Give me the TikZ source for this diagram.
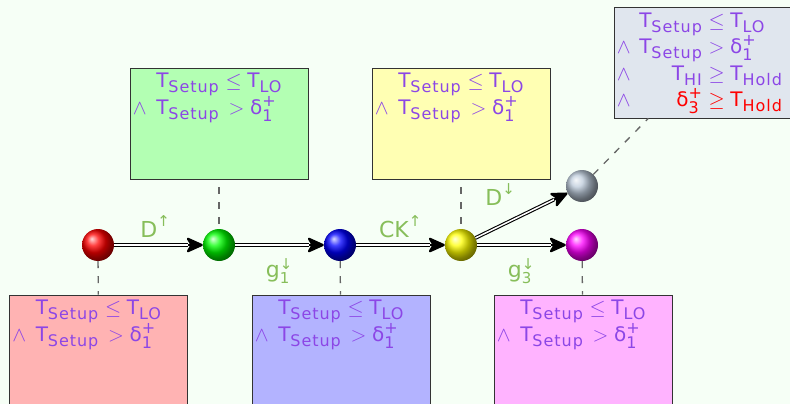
\documentclass[tikz,border=0pt]{standalone}
\usepackage{amsmath}
\usepackage{fontspec}
\setmainfont{DejaVu Sans}
\newfontfamily\subf[LetterSpace=6]{DejaVu Sans}
\usetikzlibrary{arrows.meta,shadings}
\DeclareMathSizes{20}{20}{16}{12}
\DeclareMathSizes{22}{22}{15}{11}
\definecolor{bgc}{RGB}{246,255,246}
\definecolor{tcol}{RGB}{140,70,230}
\definecolor{lcol}{RGB}{135,190,90}
\definecolor{kfill}{RGB}{224,230,238}
\definecolor{kball}{RGB}{188,202,218}
\definecolor{rfill}{RGB}{255,179,179}
\definecolor{gfill}{RGB}{179,255,179}
\definecolor{bfill}{RGB}{179,179,255}
\definecolor{yfill}{RGB}{255,255,179}
\definecolor{mfill}{RGB}{255,179,255}
\definecolor{rb}{RGB}{255,0,0}
\definecolor{gb}{RGB}{0,255,0}
\definecolor{bb}{RGB}{0,0,255}
\definecolor{yb}{RGB}{255,255,0}
\definecolor{mb}{RGB}{255,0,255}
\newcommand\Tx[1]{\text{T}_{\text{\subf #1}}}
\tikzset{
  cbox/.style={draw=black!80, line width=0.8pt, minimum width=178pt, minimum height=111pt, inner sep=0pt},
  txt/.style={inner sep=0pt, text=tcol, font=\fontsize{20}{24}\selectfont},
  ballnode/.style={circle, minimum size=32pt, inner sep=0pt},
  dashline/.style={draw=black!60, line width=1.3pt, dash pattern=on 7pt off 8pt},
  tipline/.style={line width=2.2pt, -{Stealth[length=19pt,width=17pt,inset=5pt,round]}},
  dline/.style={draw=black, double=white, double distance=1.5pt, line width=1.1pt, shorten >=15pt},
  lab/.style={inner sep=1pt, text=lcol, font=\fontsize{22}{26}\selectfont},
}
\newcommand\condbox[4]{%
  \node[cbox, fill=#4] (#1) at (#2,#3) {};
  \node[txt, anchor=base east] (#1a) at ([xshift=90pt,yshift=-20pt]#1.north west) {$\Tx{Setup}$};
  \node[txt, anchor=base west] (#1b) at ([xshift=90pt,yshift=-20pt]#1.north west) {${}\le\Tx{LO}$};
  \node[txt, anchor=base west] (#1c) at ([xshift=3pt,yshift=-47pt]#1.north west) {$\wedge$};
  \node[txt, anchor=base east] (#1d) at ([xshift=90pt,yshift=-47pt]#1.north west) {$\Tx{Setup}$};
  \node[txt, anchor=base west] (#1e) at ([xshift=93pt,yshift=-47pt]#1.north west) {${}>\text{δ}_{\text{1}}^{\text{+}}$};
}
\begin{document}
\begin{tikzpicture}[x=1pt,y=-1pt]
\path[use as bounding box] (0,0) rectangle (790,404);
\clip (0,0) rectangle (790,404);
\fill[bgc] (0,0) rectangle (790,404);
% condition boxes
\condbox{gbox}{219}{123.5}{gfill}
\condbox{ybox}{461}{123.5}{yfill}
\condbox{rbox}{98.5}{350.5}{rfill}
\condbox{bbox}{341}{350.5}{bfill}
\condbox{mbox}{583}{350.5}{mfill}
% grey box
\node[cbox, fill=kfill] (kbox) at (703,62.5) {};
\node[txt, anchor=base west] (k1c) at ([xshift=3pt,yshift=-47pt]kbox.north west) {$\wedge$};
\node[txt, anchor=base west] (k2c) at ([xshift=3pt,yshift=-74pt]kbox.north west) {$\wedge$};
\node[txt, anchor=base west] (k3c) at ([xshift=3pt,yshift=-100pt]kbox.north west) {$\wedge$};
\node[txt, anchor=base east] (k0a) at ([xshift=89pt,yshift=-21pt]kbox.north west) {$\Tx{Setup}$};
\node[txt, anchor=base west] (k0b) at ([xshift=89pt,yshift=-21pt]kbox.north west) {${}\le\Tx{LO}$};
\node[txt, anchor=base east] (k1a) at ([xshift=89pt,yshift=-47pt]kbox.north west) {$\Tx{Setup}$};
\node[txt, anchor=base west] (k1b) at ([xshift=89pt,yshift=-47pt]kbox.north west) {${}>\text{δ}_{\text{1}}^{\text{+}}$};
\node[txt, anchor=base east] (k2a) at ([xshift=89pt,yshift=-74pt]kbox.north west) {$\Tx{HI}$};
\node[txt, anchor=base west] (k2b) at ([xshift=89pt,yshift=-74pt]kbox.north west) {${}\ge\Tx{Hold}$};
\node[txt, text=red, anchor=base east] (k3a) at ([xshift=89pt,yshift=-100pt]kbox.north west) {$\text{δ}_{\text{3}}^{\text{+}}$};
\node[txt, text=red, anchor=base west] (k3b) at ([xshift=89pt,yshift=-100pt]kbox.north west) {${}\ge\Tx{Hold}$};
% balls
\node[ballnode, ball color=rb] (r) at (98,245) {};
\node[ballnode, ball color=gb] (g) at (219,245) {};
\node[ballnode, ball color=bb] (b) at (340,245) {};
\node[ballnode, ball color=yb] (y) at (461,245) {};
\node[ballnode, ball color=mb] (m) at (582,245) {};
\node[ballnode, ball color=kball] (k) at (582,186) {};
% dashed links
\draw[dashline, dash phase=7pt] (gbox) -- (g);
\draw[dashline, dash phase=7pt] (ybox) -- (y);
\draw[dashline] (r) -- (rbox);
\draw[dashline] (b) -- (bbox);
\draw[dashline] (m) -- (mbox);
\draw[dashline] (k) -- (kbox);
% transitions
\draw[tipline] (r) -- (g);
\draw[dline] (r) -- node[lab, above=6pt, xshift=-3pt] (l1) {$\text{D}^{\text{↑}}$} (g);
\draw[tipline] (g) -- (b);
\draw[dline] (g) -- node[lab, below=12pt] (l2) {$\text{g}_{\text{1}}^{\text{↓}}$} (b);
\draw[tipline] (b) -- (y);
\draw[dline] (b) -- node[lab, above=6pt] (l3) {$\text{CK}^{\text{↑}}$} (y);
\draw[tipline] (y) -- (k);
\draw[dline] (y) -- node[lab, pos=0.27, above=19pt] (l4) {$\text{D}^{\text{↓}}$} (k);
\draw[tipline] (y) -- (m);
\draw[dline] (y) -- node[lab, below=12pt] (l5) {$\text{g}_{\text{3}}^{\text{↓}}$} (m);
\end{tikzpicture}
\end{document}
